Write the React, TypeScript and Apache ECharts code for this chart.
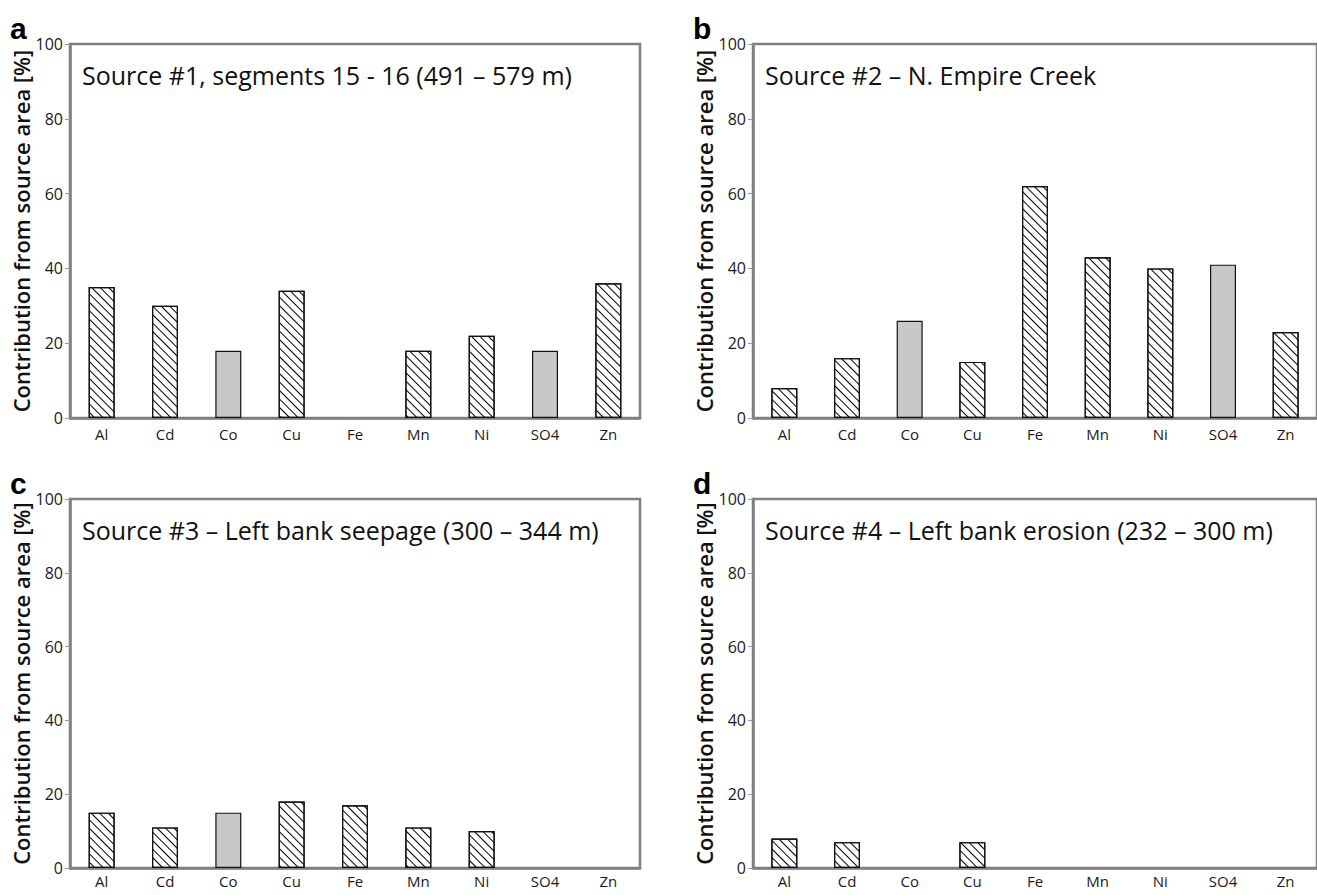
import React, { useEffect, useRef } from "react";
import * as echarts from "echarts";

const categories = ["Al", "Cd", "Co", "Cu", "Fe", "Mn", "Ni", "SO4", "Zn"];
const grayCategories = ["Co", "SO4"];
const yTicks = [0, 20, 40, 60, 80, 100];

const sourceA = [35, 30, 18, 34, 0, 18, 22, 18, 36];
const sourceB = [8, 16, 26, 15, 62, 43, 40, 41, 23];
const sourceC = [15, 11, 15, 18, 17, 11, 10, 0, 0];
const sourceD = [8, 7, 0, 7, 0, 0, 0, 0, 0];

const panelLetters = ["a", "b", "c", "d"];
const panelTitles = [
  "Source #1, segments 15 - 16 (491 \u2013 579 m)",
  "Source #2 \u2013 N. Empire Creek",
  "Source #3 \u2013 Left bank seepage (300 \u2013 344 m)",
  "Source #4 \u2013 Left bank erosion (232 \u2013 300 m)",
];
const yAxisTitle = "Contribution from source area [%]";

const FONT = "'Open Sans', 'Noto Sans', sans-serif";

export default function App() {
  const ref = useRef<HTMLDivElement>(null);

  useEffect(() => {
    if (!ref.current) return;
    const chart = echarts.init(ref.current, null, { renderer: "svg" });

    const panels = [
      { values: sourceA, left: 70, top: 44, height: 374, nameGap: 35, labelMargin: 9 },
      { values: sourceB, left: 753, top: 44, height: 374, nameGap: 37, labelMargin: 9 },
      { values: sourceC, left: 70, top: 499, height: 369, nameGap: 35, labelMargin: 6 },
      { values: sourceD, left: 753, top: 499, height: 369, nameGap: 37, labelMargin: 6 },
    ];

    const grids: any[] = [];
    const xAxes: any[] = [];
    const yAxes: any[] = [];
    const series: any[] = [];
    const graphics: any[] = [];

    const axisColor = "#7f7f7f";

    panels.forEach((p, i) => {
      grids.push({
        left: p.left,
        top: p.top,
        width: 570,
        height: p.height,
        show: true,
        borderColor: axisColor,
        borderWidth: 2.5,
        backgroundColor: "transparent",
      });
      xAxes.push({
        type: "category",
        gridIndex: i,
        data: categories,
        axisLine: { lineStyle: { color: axisColor, width: 2.5 } },
        axisTick: { alignWithLabel: true, length: 4, lineStyle: { color: "#999", width: 1 } },
        axisLabel: {
          color: "#1a1a1a",
          fontSize: 15,
          lineHeight: 14,
          fontFamily: FONT,
          margin: p.labelMargin,
        },
      });
      yAxes.push({
        type: "value",
        gridIndex: i,
        min: 0,
        max: 100,
        interval: 20,
        name: yAxisTitle,
        nameLocation: "middle",
        nameGap: p.nameGap,
        nameTextStyle: { fontSize: 22, fontFamily: FONT, fontWeight: 600, color: "#111" },
        axisLine: { show: true, lineStyle: { color: axisColor, width: 2.5 } },
        axisTick: { show: true, length: 5, lineStyle: { color: "#999", width: 1 } },
        axisLabel: {
          color: "#1a1a1a",
          fontSize: 16,
          fontFamily: FONT,
          margin: 7,
          formatter: (v: number) => (yTicks.includes(v) ? String(v) : ""),
        },
        splitLine: { show: false },
      });

      const hatched = p.values.map((v, k) =>
        grayCategories.includes(categories[k]) || v === 0 ? "-" : v
      );
      const grey = p.values.map((v, k) =>
        grayCategories.includes(categories[k]) && v !== 0 ? v : "-"
      );

      series.push({
        type: "bar",
        xAxisIndex: i,
        yAxisIndex: i,
        data: hatched,
        barWidth: 26,
        barGap: "-100%",
        itemStyle: {
          color: "#ffffff",
          borderColor: "#111",
          borderWidth: 1.2,
          decal: {
            symbol: "rect",
            symbolSize: 1,
            color: "#000",
            dashArrayX: [1, 0],
            dashArrayY: [1, 5],
            rotation: Math.PI / 4,
          },
        },
      });
      series.push({
        type: "bar",
        xAxisIndex: i,
        yAxisIndex: i,
        data: grey,
        barWidth: 26,
        barGap: "-100%",
        itemStyle: { color: "#c8c8c8", borderColor: "#111", borderWidth: 1.2 },
      });

      graphics.push({
        type: "text",
        x: p.left + 12,
        y: p.top + 31,
        style: {
          text: panelTitles[i],
          font: `25px ${FONT}`,
          fill: "#111",
          align: "left",
          verticalAlign: "middle",
        },
      });
      graphics.push({
        type: "text",
        x: p.left - 60,
        y: p.top - 16,
        style: {
          text: panelLetters[i],
          font: `bold 30px 'Liberation Sans', Arial, sans-serif`,
          fill: "#000",
          align: "left",
          verticalAlign: "middle",
        },
      });
    });

    chart.setOption({
      animation: false,
      backgroundColor: "#ffffff",
      grid: grids,
      xAxis: xAxes,
      yAxis: yAxes,
      series,
      graphic: graphics,
    });

    return () => chart.dispose();
  }, []);

  return (
    <div
      ref={ref}
      style={{ position: "absolute", left: 0, top: 0, width: 1317, height: 895 }}
    />
  );
}
